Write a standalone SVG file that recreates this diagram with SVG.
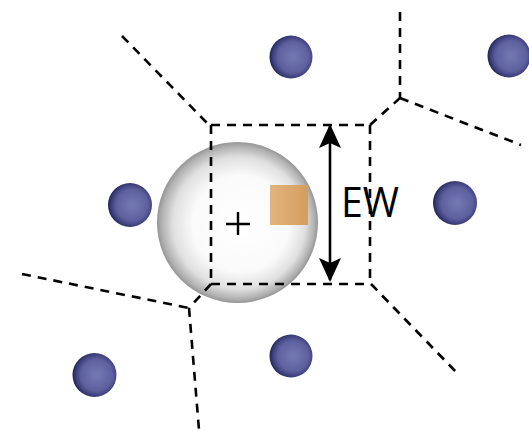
<svg xmlns="http://www.w3.org/2000/svg" width="529" height="431" viewBox="0 0 529 431">
<defs>
<radialGradient id="ball" cx="0.55" cy="0.5" r="0.55">
<stop offset="0" stop-color="#7579b3"/>
<stop offset="0.65" stop-color="#5d609d"/>
<stop offset="0.88" stop-color="#393c77"/>
<stop offset="1" stop-color="#1e2154"/>
</radialGradient>
<radialGradient id="sphere" cx="0.5" cy="0.5" r="0.5" fx="0.55" fy="0.52">
<stop offset="0" stop-color="#ffffff"/>
<stop offset="0.6" stop-color="#fafafa"/>
<stop offset="0.82" stop-color="#e0e0e0"/>
<stop offset="0.95" stop-color="#b0b0b0"/>
<stop offset="1" stop-color="#959595"/>
</radialGradient>
<linearGradient id="sq" x1="0" y1="0" x2="1" y2="0">
<stop offset="0" stop-color="#e2b47d"/>
<stop offset="1" stop-color="#d39d60"/>
</linearGradient>
<marker id="ah" viewBox="0 0 24 22" refX="22" refY="11" markerWidth="24" markerHeight="22" markerUnits="userSpaceOnUse" orient="auto">
<path d="M0,0 L24,11 L0,22 L5,11 Z" fill="#000"/>
</marker>
</defs>
<style>
.v{fill:none;stroke:#000;stroke-width:2.6;stroke-dasharray:9 7}
.b{fill:url(#ball)}
</style>
<rect width="529" height="431" fill="#fff"/>
<g id="sphere-node">
<circle cx="237.5" cy="222.5" r="80.5" fill="url(#sphere)"/>
<path d="M226,224 H250 M238,212 V235" stroke="#000" stroke-width="2.4" fill="none"/>
<rect x="270" y="185" width="38" height="40" fill="url(#sq)"/>
</g>
<g id="connectors">
<path class="v" d="M122,36 L209,125"/>
<path class="v" d="M211,125 H370"/>
<path class="v" d="M211,284 H371"/>
<path class="v" d="M211,125 V284"/>
<path class="v" d="M370,125 V284"/>
<path class="v" d="M370,125 L400,98"/>
<path class="v" d="M400,12 V98"/>
<path class="v" d="M400,98 L521,145"/>
<path class="v" d="M211,284 L189,308"/>
<path class="v" d="M22,274 L189,308"/>
<path class="v" d="M189,308 L199,430"/>
<path class="v" d="M371,284 L459,375"/>
<line x1="330" y1="200" x2="330" y2="126" stroke="#000" stroke-width="2.6" marker-end="url(#ah)"/>
<line x1="330" y1="200" x2="330" y2="280" stroke="#000" stroke-width="2.6" marker-end="url(#ah)"/>
</g>
<g id="label-ew">
<text x="341" y="217" font-family="'Open Sans', 'Liberation Sans', sans-serif" font-size="42" textLength="58" lengthAdjust="spacingAndGlyphs" fill="#000">EW</text>
</g>
<g id="ball-top"><circle class="b" cx="291" cy="57" r="21.5"/></g>
<g id="ball-topright"><circle class="b" cx="509" cy="56" r="21.5"/></g>
<g id="ball-left"><circle class="b" cx="130" cy="205" r="22"/></g>
<g id="ball-right"><circle class="b" cx="455" cy="203" r="22"/></g>
<g id="ball-bottomleft"><circle class="b" cx="94.5" cy="375" r="22"/></g>
<g id="ball-bottom"><circle class="b" cx="291" cy="356" r="21.5"/></g>
</svg>
